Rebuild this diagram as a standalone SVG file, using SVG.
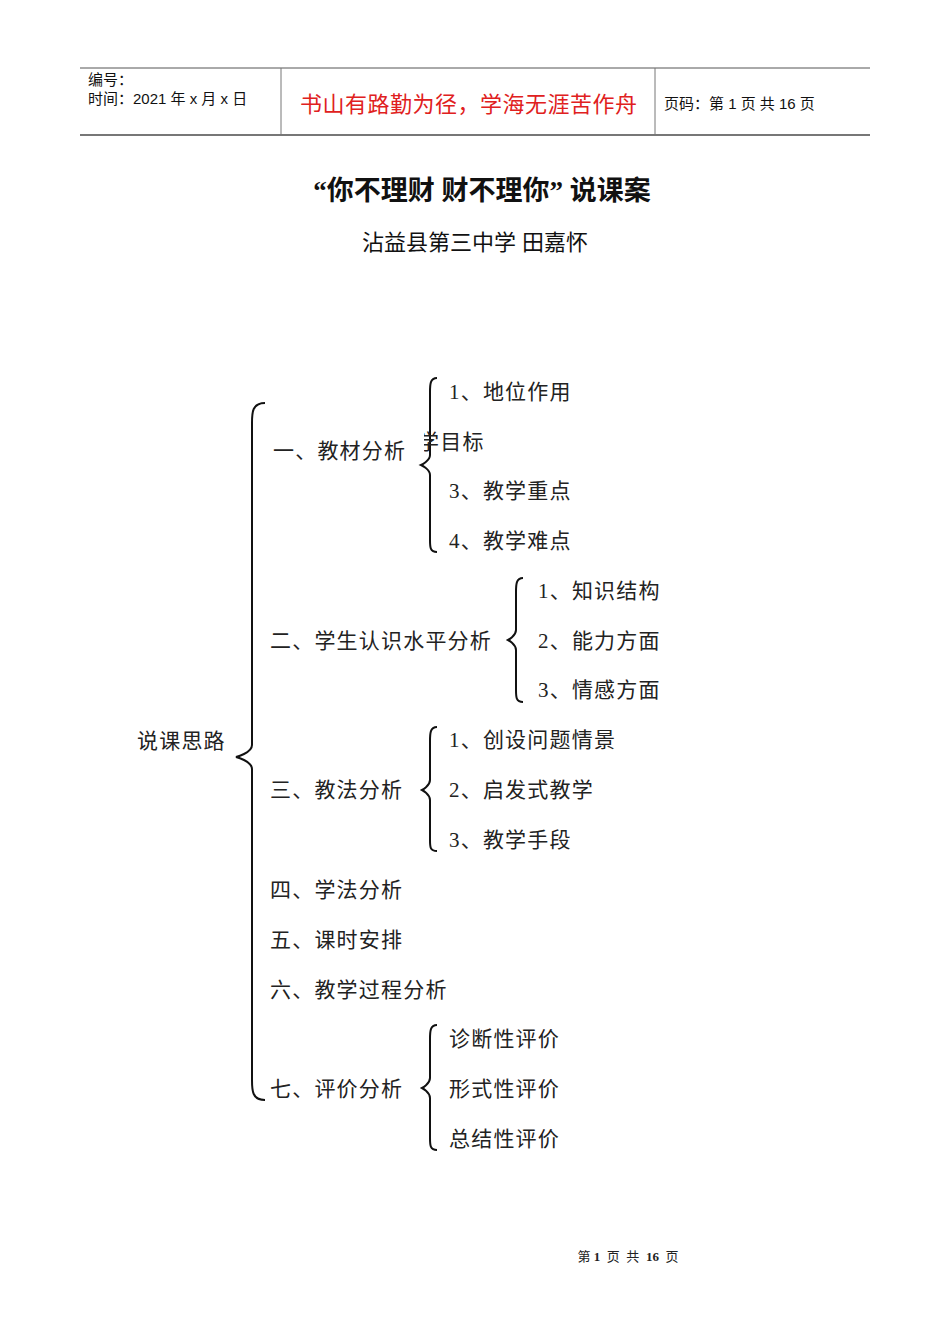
<svg xmlns="http://www.w3.org/2000/svg" width="950" height="1344" viewBox="0 0 950 1344">
<style>
.b{font-family:"Liberation Serif","Noto Sans CJK SC",serif;font-size:21px;fill:#222;letter-spacing:1.2px}
.h{font-family:"Liberation Sans","Noto Sans CJK SC",sans-serif;font-size:15px;fill:#111}
.br{fill:none;stroke:#111;stroke-width:2}
</style>
<defs><clipPath id="c"><rect x="424" y="420" width="100" height="40"/></clipPath></defs>
<rect width="950" height="1344" fill="#fff"/>
<g id="header">
<line x1="80" y1="68" x2="870" y2="68" stroke="#555" stroke-width="1"/>
<line x1="80" y1="135" x2="870" y2="135" stroke="#777" stroke-width="2"/>
<line x1="281" y1="68" x2="281" y2="135" stroke="#777"/>
<line x1="655" y1="68" x2="655" y2="135" stroke="#777"/>
<text class="h" x="88" y="85">编号：</text>
<text class="h" x="88" y="104">时间：2021 年 x 月 x 日</text>
<text x="300" y="112" font-family="Liberation Sans,Noto Sans CJK SC,sans-serif" font-size="22" letter-spacing="0.5" fill="#e02020">书山有路勤为径，学海无涯苦作舟</text>
<text class="h" x="664" y="109">页码：第 1 页  共 16 页</text>
</g>
<text x="482" y="200" text-anchor="middle" font-family="Liberation Serif,Noto Sans CJK SC,serif" font-weight="bold" font-size="27" fill="#111">“你不理财  财不理你” 说课案</text>
<text x="475" y="250" text-anchor="middle" font-family="Liberation Sans,Noto Sans CJK SC,sans-serif" font-size="22" fill="#111">沾益县第三中学  田嘉怀</text>
<g id="connectors">
<path class="br" d="M265,403 C252,403 252,413 252,423 L252,745 C252,753 236,757 236,757 C236,757 252,761 252,769 L252,1080 C252,1090 252,1100 265,1100"/>
<path class="br" d="M437,378 C430,378 430,385 430,392 L430,455 C430,461 421,465 421,465 C421,465 430,469 430,475 L430,540 C430,547 430,552 437,552"/>
<path class="br" d="M523,578 C516,578 516,585 516,592 L516,630 C516,636 508,640 508,640 C508,640 516,644 516,650 L516,690 C516,697 516,702 523,702"/>
<path class="br" d="M437,727 C430,727 430,734 430,741 L430,780 C430,786 422,790 422,790 C422,790 430,794 430,800 L430,840 C430,847 430,851 437,851"/>
<path class="br" d="M437,1025 C430,1025 430,1032 430,1039 L430,1078 C430,1084 422,1088 422,1088 C422,1088 430,1092 430,1098 L430,1138 C430,1145 430,1150 437,1150"/>
</g>
<g id="root"><text class="b" x="137" y="748">说课思路</text></g>
<g id="n1"><text class="b" x="273" y="458">一、教材分析</text></g>
<g id="n1a"><text class="b" x="449" y="399">1、地位作用</text></g>
<g id="n1b"><text class="b" x="418" y="449" clip-path="url(#c)">学目标</text></g>
<g id="n1c"><text class="b" x="449" y="498">3、教学重点</text></g>
<g id="n1d"><text class="b" x="449" y="548">4、教学难点</text></g>
<g id="n2"><text class="b" x="270" y="648">二、学生认识水平分析</text></g>
<g id="n2a"><text class="b" x="538" y="598">1、知识结构</text></g>
<g id="n2b"><text class="b" x="538" y="648">2、能力方面</text></g>
<g id="n2c"><text class="b" x="538" y="697">3、情感方面</text></g>
<g id="n3"><text class="b" x="270" y="797">三、教法分析</text></g>
<g id="n3a"><text class="b" x="449" y="747">1、创设问题情景</text></g>
<g id="n3b"><text class="b" x="449" y="797">2、启发式教学</text></g>
<g id="n3c"><text class="b" x="449" y="847">3、教学手段</text></g>
<g id="n4"><text class="b" x="270" y="897">四、学法分析</text></g>
<g id="n5"><text class="b" x="270" y="947">五、课时安排</text></g>
<g id="n6"><text class="b" x="270" y="997">六、教学过程分析</text></g>
<g id="n7"><text class="b" x="270" y="1096">七、评价分析</text></g>
<g id="n7a"><text class="b" x="449" y="1046">诊断性评价</text></g>
<g id="n7b"><text class="b" x="449" y="1096">形式性评价</text></g>
<g id="n7c"><text class="b" x="449" y="1146">总结性评价</text></g>
<text x="628" y="1261" text-anchor="middle" font-family="Liberation Serif,Noto Sans CJK SC,serif" font-size="13" fill="#222" xml:space="preserve">第 <tspan font-weight="bold">1</tspan>  页  共  <tspan font-weight="bold">16</tspan>  页</text>
</svg>
